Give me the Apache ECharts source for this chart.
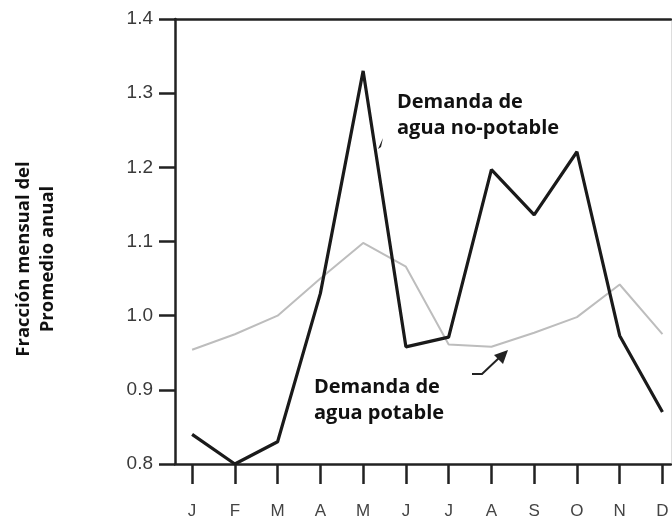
<!DOCTYPE html>
<html>
<head>
<meta charset="utf-8">
<script src="https://cdn.jsdelivr.net/npm/echarts@6/dist/echarts.min.js"></script>
<style>
  html, body { margin: 0; padding: 0; background: #fff; }
  #chart { width: 672px; height: 516px; }
</style>
</head>
<body>
<div id="chart"></div>
<script>
// meses
const months = ['J', 'F', 'M', 'A', 'M', 'J', 'J', 'A', 'S', 'O', 'N', 'D'];
const monthIdx = [0, 1, 2, 3, 4, 5, 6, 7, 8, 9, 10, 11];
// demanda de agua no-potable
const noPotable = [0.84, 0.80, 0.83, 1.03, 1.33, 0.958, 0.971, 1.197, 1.136, 1.221, 0.973, 0.87];
// demanda de agua potable
const potable = [0.954, 0.975, 1.0, 1.05, 1.098, 1.066, 0.961, 0.958, 0.977, 0.998, 1.042, 0.975];
const yTicks = [0.8, 0.9, 1.0, 1.1, 1.2, 1.3, 1.4];

let myChart = echarts.init(document.getElementById('chart'));

let option = {
  animation: false,
  grid: {
    left: 175,
    top: 19,
    right: 1,
    bottom: 52,
    containLabel: false,
    outerBoundsMode: 'none'
  },
  xAxis: [
    {
      type: 'value',
      min: -0.4,
      max: 11.2,
      axisLine: { show: true, onZero: false, lineStyle: { color: '#222', width: 2.5 } },
      axisTick: {
        show: true,
        customValues: monthIdx,
        length: 20,
        lineStyle: { color: '#222', width: 2.5 }
      },
      axisLabel: {
        customValues: monthIdx,
        margin: 39,
        color: '#444',
        fontSize: 17,
        fontFamily: 'Liberation Sans',
        formatter: function (v) { return months[Math.round(v)] }
      },
      splitLine: { show: false }
    },
    {
      // borde superior
      type: 'value',
      position: 'top',
      min: -0.4,
      max: 11.2,
      axisLine: { show: true, onZero: false, lineStyle: { color: '#222', width: 2.5 } },
      axisTick: { show: false },
      axisLabel: { show: false },
      splitLine: { show: false }
    }
  ],
  yAxis: [
    {
      type: 'value',
      min: 0.8,
      max: 1.4,
      interval: 0.1,
      axisLine: { show: true, onZero: false, lineStyle: { color: '#222', width: 2.5 } },
      axisTick: {
        show: true,
        customValues: yTicks,
        length: 16,
        lineStyle: { color: '#222', width: 2.5 }
      },
      axisLabel: {
        customValues: yTicks,
        margin: 22,
        color: '#3a3a3a',
        fontSize: 19,
        fontFamily: 'Liberation Sans',
        formatter: function (v) { return v.toFixed(1) }
      },
      splitLine: { show: false }
    },
    {
      // borde derecho
      type: 'value',
      position: 'right',
      min: 0.8,
      max: 1.4,
      axisLine: { show: true, onZero: false, lineStyle: { color: '#ddd', width: 1 } },
      axisTick: { show: false },
      axisLabel: { show: false },
      splitLine: { show: false }
    }
  ],
  series: [
    {
      name: 'potable',
      type: 'line',
      symbol: 'none',
      data: monthIdx.map(function (i) { return [i, potable[i]] }),
      lineStyle: { color: '#bdbdbd', width: 2 },
      z: 2
    },
    {
      name: 'no-potable',
      type: 'line',
      symbol: 'none',
      data: monthIdx.map(function (i) { return [i, noPotable[i]] }),
      lineStyle: { color: '#1a1a1a', width: 3.2 },
      z: 3
    }
  ],
  graphic: [
    {
      type: 'text',
      x: 36,
      y: 259,
      rotation: Math.PI / 2,
      style: {
        text: 'Fracción mensual del\nPromedio anual',
        font: 'bold 18.5px "Open Sans"',
        fill: '#111',
        lineHeight: 24,
        align: 'center',
        verticalAlign: 'middle'
      }
    },
    {
      type: 'text',
      x: 397,
      y: 89,
      style: {
        text: 'Demanda de\nagua no-potable',
        font: 'bold 20px "Open Sans"',
        fill: '#111',
        lineHeight: 26
      }
    },
    {
      type: 'text',
      x: 314,
      y: 374,
      style: {
        text: 'Demanda de\nagua potable',
        font: 'bold 20px "Open Sans"',
        fill: '#111',
        lineHeight: 26
      }
    },
    {
      // flecha pequeña arriba
      type: 'polygon',
      shape: { points: [[383, 138], [378, 149], [381, 147]] },
      style: { fill: '#222' }
    },
    {
      type: 'polyline',
      shape: { points: [[472, 374], [482, 374], [500, 357]] },
      style: { stroke: '#222', lineWidth: 2, fill: null }
    },
    {
      type: 'polygon',
      shape: { points: [[508, 350], [494, 355], [503, 364]] },
      style: { fill: '#222' }
    }
  ]
};

myChart.setOption(option);
</script>
</body>
</html>
